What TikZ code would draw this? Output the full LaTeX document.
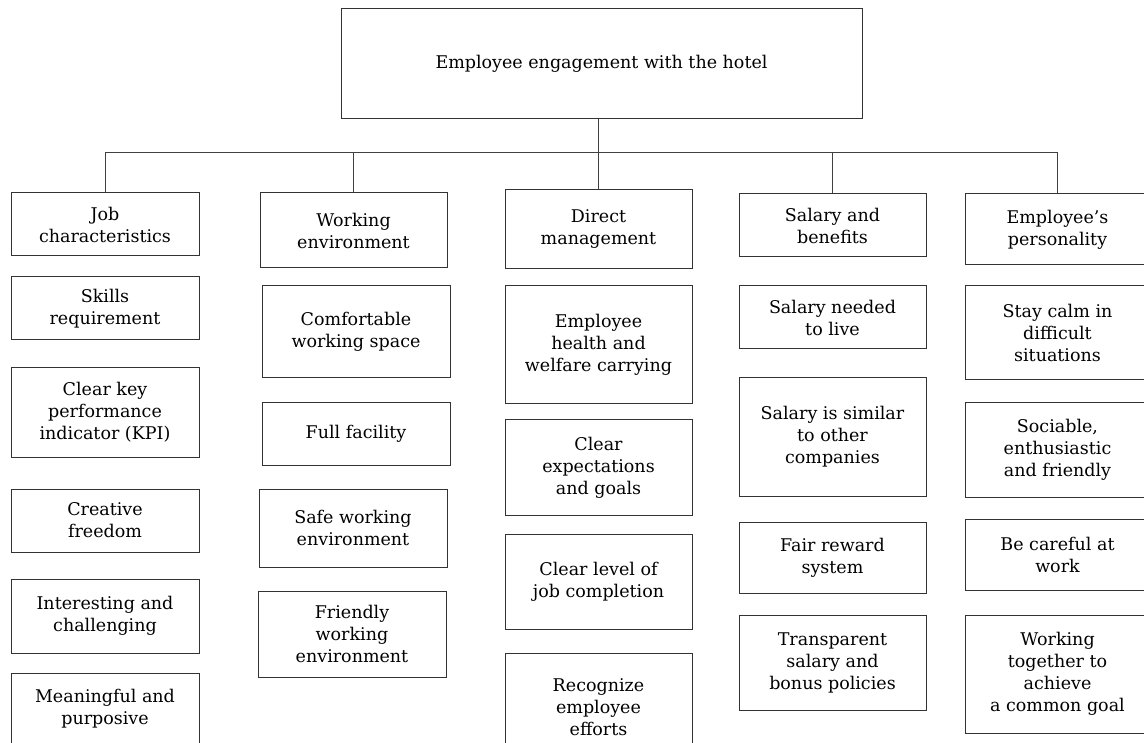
\documentclass[tikz,border=0pt]{standalone}
\usepackage{fontspec}
\setmainfont{DejaVu Serif}
\usetikzlibrary{positioning}

\tikzset{
  box/.style={draw=black!80, line width=1pt, align=center, inner sep=2pt,
              font=\fontsize{17.5}{22}\selectfont},
  link/.style={draw=black!75, line width=1pt}
}

\begin{document}
\begin{tikzpicture}[x=1pt, y=-1pt]
  % Define dimensions
  \def\w{188}
  \def\wl{185}
  \useasboundingbox (0,0) rectangle (1144,743);

  % Root
  \node[box, minimum width=521, minimum height=110] (root) at (601.5,64) {Employee engagement with the hotel};

  % First level
  \node[box, minimum width=\w, minimum height=63] (job)  at (105,224.5)   {Job\\characteristics};
  \node[box, minimum width=187, minimum height=75] (work) at (353.5,230.5) {Working\\environment};
  \node[box, minimum width=187, minimum height=79] (dir)  at (598.5,229.5) {Direct\\management};
  \node[box, minimum width=187, minimum height=63] (sal)  at (832.5,225.5) {Salary and\\benefits};
  \node[box, minimum width=\wl, minimum height=71] (emp)  at (1057.5,229.5) {Employee’s\\personality};

  % Connectors
  \coordinate (bar) at (0,153);
  \draw[link] (dir.north |- root.south) -- (dir.north);
  \draw[link] (job.north |- bar) -- (emp.north |- bar);
  \foreach \b in {job, work, sal, emp}
      \draw[link] (\b.north |- bar) -- (\b.north);

  % Job characteristics
  \node[box, minimum width=\w, minimum height=63] (skills) at (105,308.5) {Skills\\requirement};
  \node[box, minimum width=\w, minimum height=89] (kpi)    at (105,412.5) {Clear key\\performance\\indicator (KPI)};
  \node[box, minimum width=\w, minimum height=63] (creat)  at (105,520.5) {Creative\\freedom};
  \node[box, minimum width=\w, minimum height=74] (inter)  at (105,616)   {Interesting and\\challenging};
  \node[box, minimum width=\w, minimum height=72] (mean)   at (105,709)   {Meaningful and\\purposive};

  % Working environment
  \node[box, minimum width=\w, minimum height=92] (comf)   at (356,332) {Comfortable\\working space};
  \node[box, minimum width=\w, minimum height=62] (full)   at (356,434) {Full facility};
  \node[box, minimum width=\w, minimum height=78] (safe)   at (353,528) {Safe working\\environment};
  \node[box, minimum width=\w, minimum height=86] (friend) at (352,634) {Friendly\\working\\environment};

  % Direct management
  \node[box, minimum width=187, minimum height=118] (health) at (598.5,345)   {Employee\\health and\\welfare carrying};
  \node[box, minimum width=187, minimum height=95]  (expect) at (598.5,467.5) {Clear\\expectations\\and goals};
  \node[box, minimum width=187, minimum height=95]  (level)  at (598.5,581.5) {Clear level of\\job completion};
  \node[box, minimum width=187, minimum height=108] (recog)  at (598.5,707)   {Recognize\\employee\\efforts};

  % Salary and benefits
  \node[box, minimum width=187, minimum height=63]  (need)    at (832.5,317.5) {Salary needed\\to live};
  \node[box, minimum width=187, minimum height=118] (similar) at (832.5,437)   {Salary is similar\\to other\\companies};
  \node[box, minimum width=187, minimum height=71]  (fair)    at (832.5,557.5) {Fair reward\\system};
  \node[box, minimum width=187, minimum height=95]  (transp)  at (832.5,662.5) {Transparent\\salary and\\bonus policies};

  % Employee's personality
  \node[box, minimum width=\wl, minimum height=94]  (calm)     at (1057.5,333)   {Stay calm in\\difficult\\situations};
  \node[box, minimum width=\wl, minimum height=94]  (social)   at (1057.5,450)   {Sociable,\\enthusiastic\\and friendly};
  \node[box, minimum width=\wl, minimum height=71]  (careful)  at (1057.5,554.5) {Be careful at\\work};
  \node[box, minimum width=\wl, minimum height=118] (together) at (1057.5,674)   {Working\\together to\\achieve\\a common goal};

\end{tikzpicture}
\end{document}
